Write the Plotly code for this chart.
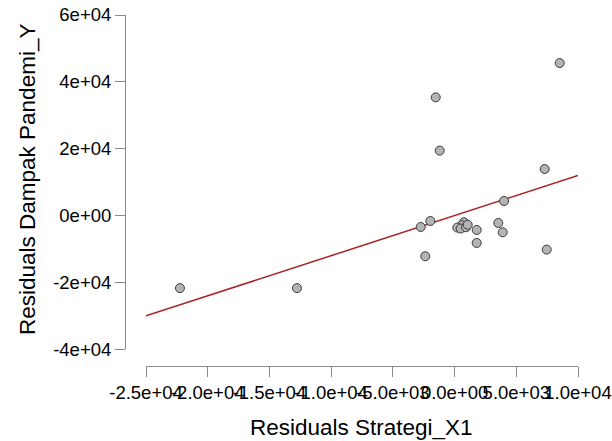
import numpy as np
import plotly.graph_objects as go

# Data
resid_x1 = [-22250, -12770, 8518, -1528, -1204, 7301, 4005, -2744, -1963,
            764, 578, 222, 497, 926, 1064, 1793, 3540, 3898, 1792, -2378, 7463]
resid_y = [-21700, -21700, 45620, 35360, 19430, 13930, 4365, -3410, -1615,
           -2003, -2900, -3588, -3887, -3498, -2750, -4300, -2210, -5000, -8190, -12170, -10170]

slope = 1.2
intercept = 0.0

x_ticks = [-25000, -20000, -15000, -10000, -5000, 0, 5000, 10000]
x_ticklabels = ["-2.5e+04", "-2.0e+04", "-1.5e+04", "-1.0e+04", "-5.0e+03", "0.0e+00", "5.0e+03", "1.0e+04"]
y_ticks = [-40000, -20000, 0, 20000, 40000, 60000]
y_ticklabels = ["-4e+04", "-2e+04", "0e+00", "2e+04", "4e+04", "6e+04"]

x_label = "Residuals Strategi_X1"
y_label = "Residuals Dampak Pandemi_Y"

FONT = "Liberation Sans, Arial, sans-serif"
AXIS_COLOR = "#8a8a8a"

line_x = np.array([x_ticks[0], x_ticks[-1]], dtype=float)
line_y = intercept + slope * line_x

fig = go.Figure()
fig.add_trace(go.Scatter(x=line_x, y=line_y, mode="lines",
                         line=dict(color="#a82222", width=1.5),
                         hoverinfo="skip", showlegend=False))
fig.add_trace(go.Scatter(x=resid_x1, y=resid_y, mode="markers",
                         marker=dict(size=9, color="#b4b4b4",
                                     line=dict(color="#3c3c3c", width=1)),
                         showlegend=False))

L, R, T, B = 125, 34, 15, 75
W, H = 612, 441
pw, ph = W - L - R, H - T - B
xdom0 = (146 - L) / pw
ydom0 = (366 - 349.3) / ph

fig.update_layout(
    width=W, height=H,
    margin=dict(l=L, r=R, t=T, b=B, pad=0, autoexpand=False),
    paper_bgcolor="white", plot_bgcolor="white",
    font=dict(family=FONT, size=18.5, color="black"),
    xaxis=dict(domain=[xdom0, 1], range=[x_ticks[0], x_ticks[-1]],
               anchor="free", position=0, automargin=False, tickangle=0,
               tickmode="array", tickvals=x_ticks, ticktext=x_ticklabels,
               showgrid=False, zeroline=False, showline=True,
               linecolor=AXIS_COLOR, linewidth=1,
               ticks="outside", ticklen=10, tickcolor=AXIS_COLOR, tickwidth=1,
               tickfont=dict(family=FONT, size=18.5, color="black")),
    yaxis=dict(domain=[ydom0, 1], range=[y_ticks[0], y_ticks[-1]],
               anchor="free", position=0, automargin=False,
               tickmode="array", tickvals=y_ticks, ticktext=y_ticklabels,
               showgrid=False, zeroline=False, showline=True,
               linecolor=AXIS_COLOR, linewidth=1,
               ticks="outside", ticklen=10, tickcolor=AXIS_COLOR, tickwidth=1,
               tickfont=dict(family=FONT, size=18.5, color="black")),
    annotations=[
        dict(text=x_label, xref="paper", yref="paper",
             x=(361.5 - L) / pw, y=(H - B - 427) / ph,
             xanchor="center", yanchor="middle", showarrow=False,
             font=dict(family=FONT, size=22.5, color="black")),
        dict(text=y_label, xref="paper", yref="paper",
             x=(27.5 - L) / pw, y=(H - B - 179.5) / ph,
             xanchor="center", yanchor="middle", textangle=-90, showarrow=False,
             font=dict(family=FONT, size=22.5, color="black")),
    ],
)

fig.write_html("out.html")
